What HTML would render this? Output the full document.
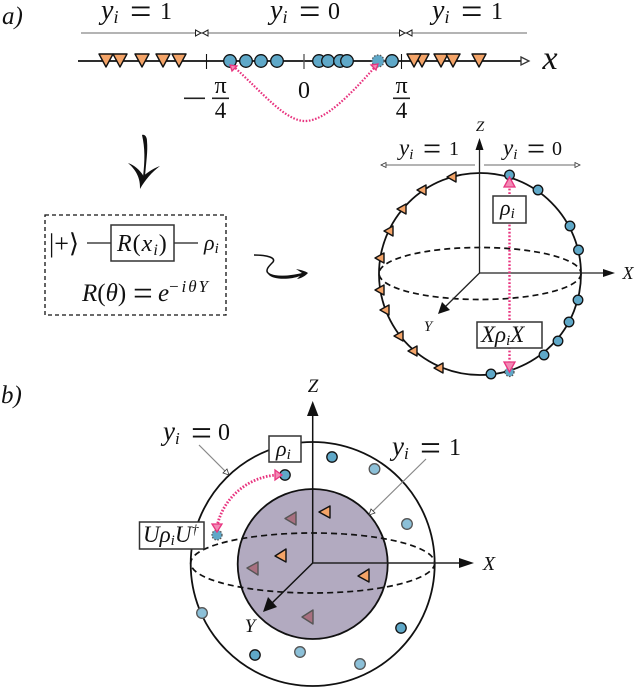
<!DOCTYPE html>
<html><head><meta charset="utf-8"><style>
html,body{margin:0;padding:0;background:#fff}
svg{display:block}
text{font-family:"Liberation Serif",serif;fill:#111}
.it{font-style:italic}
.s{fill:#5fa8c8;stroke:#111;stroke-width:1.3}
.l{fill:#8cc0d8;stroke:#555;stroke-width:1.3}
.d{fill:#5fa8c8;stroke:#555;stroke-width:1.3;stroke-dasharray:1.5 1.5}
.o{fill:#f4a468;stroke:#111;stroke-width:1.4;stroke-linejoin:round}
.b{fill:#a87080;stroke:#555;stroke-width:1.4;stroke-linejoin:round}
.p{fill:none;stroke:#e8347f;stroke-width:2.2;stroke-dasharray:1.6 1.6}
.ph{fill:#f28ab5;stroke:#e8347f;stroke-width:1.3}
.gr{stroke:#888;stroke-width:1.2;fill:none}
.dash{fill:none;stroke:#111;stroke-width:1.7;stroke-dasharray:6 4}
.box{fill:#fff;stroke:#333;stroke-width:1.5}
</style></head><body>
<svg width="636" height="688" viewBox="0 0 636 688" xmlns="http://www.w3.org/2000/svg">
<defs>
<path id="td" d="M-7,-7 L7,-7 L0,6 Z"/>
</defs>

<!-- a) -->
<text x="2" y="24" font-size="25" class="it">a)</text>
<text y="19" font-size="28"><tspan x="101" class="it">y</tspan><tspan class="it" font-size="18" dy="4">i</tspan><tspan x="130" y="24" font-size="38">=</tspan><tspan x="160" y="19" font-size="24">1</tspan></text>
<text y="19" font-size="28"><tspan x="270" class="it">y</tspan><tspan class="it" font-size="18" dy="4">i</tspan><tspan x="299" y="24" font-size="38">=</tspan><tspan x="328" y="19" font-size="24">0</tspan></text>
<text y="19" font-size="28"><tspan x="432" class="it">y</tspan><tspan class="it" font-size="18" dy="4">i</tspan><tspan x="461" y="24" font-size="38">=</tspan><tspan x="491" y="19" font-size="24">1</tspan></text>
<line x1="81" y1="33" x2="527" y2="33" class="gr"/>
<path d="M195.500,30 L201,33 L195.500,36 Z M208,30 L202.500,33 L208,36 Z M399.500,30 L405,33 L399.500,36 Z M412,30 L406.500,33 L412,36 Z" fill="#fff" stroke="#222" stroke-width="1"/>
<line x1="78" y1="61" x2="525" y2="61" stroke="#111" stroke-width="1.8"/>
<path d="M521,57 L529,61 L521,65 Z" fill="#fff" stroke="#333" stroke-width="1.3"/>
<line x1="206.500" y1="54" x2="206.500" y2="69" stroke="#111" stroke-width="1.1"/>
<line x1="304" y1="54" x2="304" y2="69" stroke="#555" stroke-width="1.3"/>
<line x1="401.500" y1="54" x2="401.500" y2="69" stroke="#111" stroke-width="1.1"/>
<g class="o">
<use href="#td" x="106" y="61"/><use href="#td" x="120" y="61"/><use href="#td" x="142" y="61"/><use href="#td" x="163" y="61"/><use href="#td" x="179" y="61"/>
<use href="#td" x="422" y="61"/><use href="#td" x="414" y="61"/><use href="#td" x="441" y="61"/><use href="#td" x="453" y="61"/><use href="#td" x="479" y="61"/>
</g>
<g class="s">
<circle cx="230" cy="61" r="6.300"/><circle cx="246" cy="61" r="6.300"/><circle cx="261" cy="61" r="6.300"/><circle cx="277" cy="61" r="6.300"/>
<circle cx="319" cy="61" r="6.300"/><circle cx="328" cy="61" r="6.300"/><circle cx="340" cy="61" r="6.300"/><circle cx="347" cy="61" r="6.300"/>
<circle cx="392" cy="61" r="6.300"/>
</g>
<circle cx="378" cy="61" r="6" class="d"/>
<text x="550" y="69" font-size="34" class="it" text-anchor="middle">x</text>
<rect x="184" y="97.500" width="21" height="1.600" fill="#222"/>
<rect x="212" y="97.500" width="17" height="1.600" fill="#222"/>
<rect x="393" y="97.500" width="17" height="1.600" fill="#222"/>
<text x="220.500" y="93" font-size="24" text-anchor="middle">π</text>
<text x="220.500" y="118" font-size="23" text-anchor="middle">4</text>
<text x="401.500" y="93" font-size="24" text-anchor="middle">π</text>
<text x="401.500" y="118" font-size="23" text-anchor="middle">4</text>
<text x="304" y="98" font-size="24" text-anchor="middle">0</text>
<path d="M233,66 C262,92 285,121 305,121 C325,121 350,95 375,67" class="p"/>
<path d="M230,65 L237,66 L232,71 Z M378,64 L371,65 L376,70 Z" class="ph"/>

<!-- curly arrow -->
<path d="M142,135 C144,134 147,136 147,141 C148,152 146,162 145,177 L143,177 C145,160 145,148 142,135 Z" fill="#111"/>
<path d="M128,163 C134,165 140,170 143.500,176 C148,172 154,168 160,166 C152,172 145,180 140,189 C140.500,178 136,170 128,163 Z" fill="#111"/>

<!-- circuit box -->
<rect x="45" y="215" width="181" height="100" fill="none" stroke="#111" stroke-width="1.300" stroke-dasharray="4 3"/>
<text x="49" y="252" font-size="26">|+⟩</text>
<line x1="87" y1="243" x2="111" y2="243" stroke="#444" stroke-width="1.500"/>
<line x1="174" y1="243" x2="198" y2="243" stroke="#444" stroke-width="1.500"/>
<rect x="111" y="225" width="63" height="36" class="box"/>
<text x="117" y="251" font-size="24" letter-spacing="1"><tspan class="it">R</tspan>(<tspan class="it">x</tspan><tspan class="it" font-size="16" dy="4">i</tspan><tspan dy="-4">)</tspan></text>
<text x="204" y="250" font-size="22"><tspan class="it">ρ</tspan><tspan class="it" font-size="15" dy="3">i</tspan></text>
<text y="301" font-size="25"><tspan x="82" class="it">R</tspan>(<tspan class="it">θ</tspan>)<tspan x="133" y="305" font-size="35">=</tspan><tspan x="158" y="301" class="it">e</tspan><tspan x="168" y="292" class="it" font-size="17" letter-spacing="2">−iθY</tspan></text>

<!-- squiggle -->
<path d="M254,255 C268,255 276,258 273,262 C269,266 265,270 268,273 C272,277 290,278 302,274" fill="none" stroke="#111" stroke-width="1.500"/>
<path d="M268,274 C275,277 290,276 302,273 L296,269 C301,270 305,271 308,273 C305,276 302,278 297,279 L300,276 C290,280 272,280 268,274 Z" fill="#111"/>

<!-- Bloch a -->
<circle cx="480" cy="274" r="101" fill="none" stroke="#111" stroke-width="1.800"/>
<ellipse cx="480" cy="273.500" rx="101" ry="26" class="dash"/>
<line x1="479.500" y1="273" x2="479.500" y2="148" stroke="#222" stroke-width="1.300"/>
<path d="M479.500,138 L475.500,150 L483.500,150 Z" fill="#111"/>
<line x1="479.500" y1="273" x2="605" y2="273" stroke="#222" stroke-width="1.300"/>
<path d="M615,273 L603,269 L603,277 Z" fill="#111"/>
<line x1="479.500" y1="273" x2="445" y2="307" stroke="#222" stroke-width="1.300"/>
<path d="M438,314 L442,302 L450,310 Z" fill="#111"/>
<text x="480" y="131" font-size="15" class="it" text-anchor="middle">Z</text>
<text x="628" y="279" font-size="18" class="it" text-anchor="middle">X</text>
<text x="428" y="331" font-size="15" class="it" text-anchor="middle">Y</text>
<text y="155" font-size="23"><tspan x="399" class="it">y</tspan><tspan class="it" font-size="15" dy="4">i</tspan><tspan x="423" y="159" font-size="32">=</tspan><tspan x="449" y="155" font-size="20">1</tspan></text>
<text y="155" font-size="23"><tspan x="503" class="it">y</tspan><tspan class="it" font-size="15" dy="4">i</tspan><tspan x="527" y="159" font-size="32">=</tspan><tspan x="552" y="155" font-size="20">0</tspan></text>
<line x1="382" y1="165" x2="475" y2="165" class="gr"/>
<line x1="484" y1="165" x2="579" y2="165" class="gr"/>
<path d="M381,165 L386,162.500 L386,167.500 Z M580,165 L575,162.500 L575,167.500 Z" fill="#fff" stroke="#333" stroke-width="0.800"/>
<g class="s">
<circle cx="509.500" cy="175" r="4.800"/><circle cx="538" cy="190" r="4.800"/><circle cx="570" cy="226" r="4.800"/><circle cx="578.500" cy="250" r="4.800"/>
<circle cx="578" cy="300" r="4.800"/><circle cx="569" cy="322" r="4.800"/><circle cx="558" cy="341" r="4.800"/><circle cx="544" cy="355" r="4.800"/><circle cx="491" cy="374" r="4.800"/>
</g>
<circle cx="509.500" cy="372" r="4.500" class="d"/>
<g class="o">
<path d="M456,172 L456,182 L447,177 Z"/><path d="M426,185 L426,195 L417,190 Z"/><path d="M406,204 L406,214 L397,209 Z"/><path d="M393,226 L393,236 L384,231 Z"/><path d="M384,253 L384,263 L375,258 Z"/>
<path d="M384,285 L384,295 L375,290 Z"/><path d="M389,305 L389,315 L380,310 Z"/><path d="M403,331 L403,341 L394,336 Z"/><path d="M417,346 L417,356 L408,351 Z"/><path d="M443,363 L443,373 L434,368 Z"/>
</g>
<line x1="509.500" y1="185" x2="509.500" y2="362" stroke="#e8347f" stroke-width="2.400" stroke-dasharray="1.800 1.800"/>
<path d="M509.500,177 L504,187 L515,187 Z M509.500,372 L504,362 L515,362 Z" class="ph"/>
<rect x="493" y="196" width="33" height="27" class="box"/>
<text x="500" y="215" font-size="22"><tspan class="it">ρ</tspan><tspan class="it" font-size="15" dy="3">i</tspan></text>
<rect x="477" y="322" width="65" height="26" class="box"/>
<text x="481" y="342" font-size="23" class="it">Xρ<tspan font-size="15" dy="3">i</tspan><tspan dy="-3">X</tspan></text>

<!-- b) -->
<text x="1" y="403" font-size="25" class="it">b)</text>
<circle cx="312.700" cy="564" r="122" fill="#fff" stroke="#111" stroke-width="1.800"/>
<circle cx="312.700" cy="564" r="75" fill="#b2aac0" stroke="#111" stroke-width="1.800"/>
<ellipse cx="312.700" cy="563" rx="122" ry="30" class="dash"/>
<line x1="312.700" y1="563" x2="312.700" y2="412" stroke="#111" stroke-width="1.500"/>
<path d="M312.700,401 L307,416 L318.500,416 Z" fill="#111"/>
<line x1="312.700" y1="563" x2="462" y2="563" stroke="#222" stroke-width="1.500"/>
<path d="M474,563 L459,558 L459,568 Z" fill="#111"/>
<line x1="312.700" y1="563" x2="270" y2="605" stroke="#111" stroke-width="1.500"/>
<path d="M263,612 L268,597 L277,607 Z" fill="#111"/>
<text x="313" y="392" font-size="19" class="it" text-anchor="middle">Z</text>
<text x="489" y="570" font-size="20" class="it" text-anchor="middle">X</text>
<text x="250" y="632" font-size="19" class="it" text-anchor="middle">Y</text>
<g class="s">
<circle cx="285" cy="475" r="5.200"/><circle cx="332" cy="457" r="5.200"/><circle cx="255" cy="655" r="5.200"/><circle cx="401" cy="628" r="5.200"/>
</g>
<g class="l">
<circle cx="374.500" cy="469" r="5.300"/><circle cx="407" cy="524" r="5.300"/><circle cx="202" cy="613" r="5.300"/><circle cx="300" cy="652" r="5.300"/><circle cx="360" cy="664" r="5.300"/>
</g>
<circle cx="217" cy="535" r="5" class="d"/>
<g class="o">
<path d="M330,506 L330,518 L319,512 Z"/><path d="M286,549 L286,562 L275,556 Z"/><path d="M369,569 L369,582 L358,576 Z"/>
</g>
<g class="b">
<path d="M296,512 L296,525 L285,518.500 Z"/><path d="M258,562 L258,575 L247,568 Z"/><path d="M313,610 L313,624 L302,617 Z"/>
</g>
<path d="M277,475 C246,477 222,500 217,527" class="p" style="stroke-width:2.800"/>
<path d="M282,475 L275,470 L275,480 Z M217,532 L212,524 L222,524 Z" class="ph"/>
<rect x="269" y="436" width="32" height="26" class="box"/>
<text x="276" y="456" font-size="22"><tspan class="it">ρ</tspan><tspan class="it" font-size="15" dy="3">i</tspan></text>
<rect x="139.500" y="522" width="64.500" height="27" class="box"/>
<text x="143" y="542" font-size="23" class="it">Uρ<tspan font-size="15" dy="3">i</tspan><tspan dy="-3">U</tspan><tspan font-size="14" dy="-8">†</tspan></text>
<text y="440" font-size="27"><tspan x="163" class="it">y</tspan><tspan class="it" font-size="17" dy="4">i</tspan><tspan x="191" y="445" font-size="37">=</tspan><tspan x="218" y="440" font-size="24">0</tspan></text>
<text y="455" font-size="27"><tspan x="392" class="it">y</tspan><tspan class="it" font-size="17" dy="4">i</tspan><tspan x="420" y="460" font-size="37">=</tspan><tspan x="449" y="455" font-size="24">1</tspan></text>
<line x1="199" y1="445" x2="228" y2="474" class="gr"/>
<path d="M229,475 L223,473 L227,469 Z" fill="#fff" stroke="#333" stroke-width="0.800"/>
<line x1="426" y1="459" x2="370" y2="514" class="gr"/>
<path d="M369,515 L371,509 L375,513 Z" fill="#fff" stroke="#333" stroke-width="0.800"/>
</svg>
</body></html>
